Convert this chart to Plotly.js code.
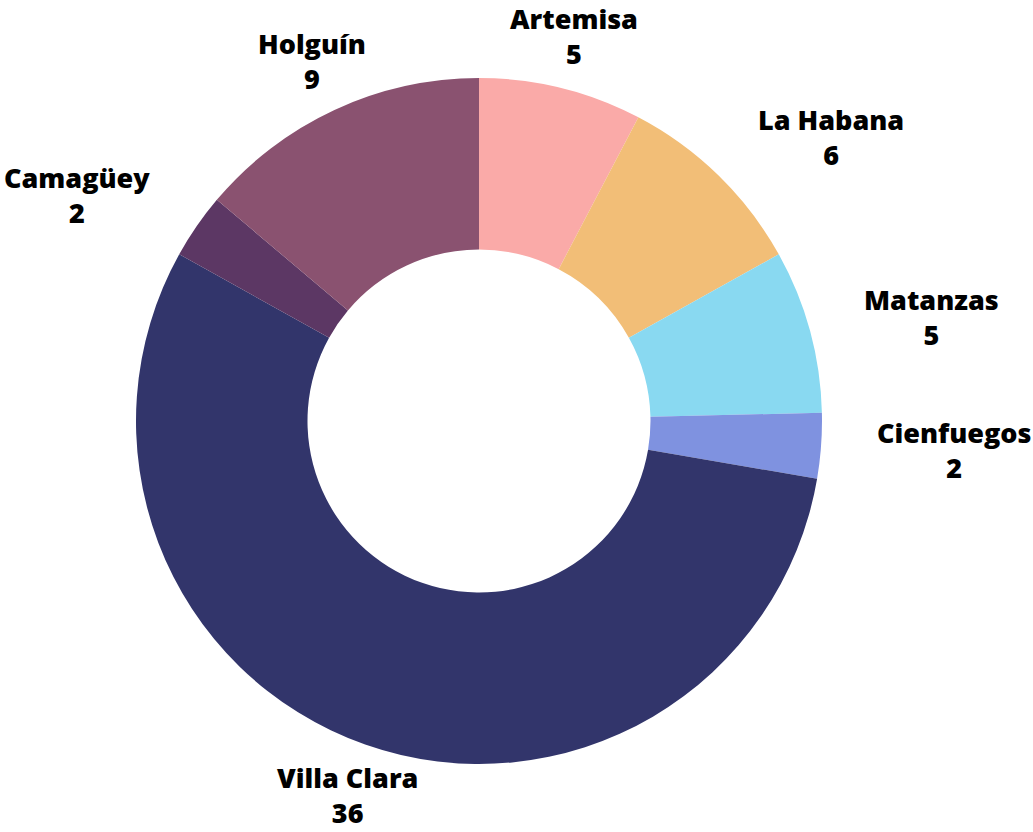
<!DOCTYPE html>
<html><head><meta charset="utf-8">
<script src="https://cdn.plot.ly/plotly-3.0.1.min.js"></script>
<style>html,body{margin:0;padding:0;background:#fff;}#chart{width:1033px;height:832px;}</style>
</head><body><div id="chart"></div>
<script>
const provinces = ["Artemisa", "La Habana", "Matanzas", "Cienfuegos", "Villa Clara", "Camagüey", "Holguín"];
const counts = [5, 6, 5, 2, 36, 2, 9];
const colors = ["#FAAAA8", "#F2BE77", "#89D9F1", "#7F92E0", "#32356B", "#5C3764", "#8A5270"];

const W = 1033, H = 832;
const cx = 479, cy = 421, R = 343, labelR = 397;
const dom = {x: [(cx - R) / W, (cx + R) / W], y: [(H - cy - R) / H, (H - cy + R) / H]};

const total = counts.reduce((a, b) => a + b, 0);
let cum = 0;
const annotations = counts.map((v, i) => {
  const mid = (cum + v / 2) / total * 2 * Math.PI;
  cum += v;
  const ux = Math.sin(mid), uy = Math.cos(mid);
  const px = cx + ux * labelR, py = cy - uy * labelR;
  let xanchor = 'center';
  if (Math.abs(ux) > 0.5) xanchor = ux > 0 ? 'left' : 'right';
  return {
    x: px / W, y: 1 - py / H, xref: 'paper', yref: 'paper',
    xanchor: xanchor, yanchor: 'middle', align: 'center', showarrow: false,
    text: provinces[i] + '<br>' + v,
    font: {family: 'Open Sans', size: 27, color: '#000', weight: 800}
  };
});

const trace = {
  type: 'pie', labels: provinces, values: counts, sort: false, direction: 'clockwise',
  rotation: 0, hole: 0.5, textinfo: 'none', hoverinfo: 'label+value',
  marker: {colors: colors, line: {width: 0}}, domain: dom, showlegend: false
};

Plotly.newPlot('chart', [trace], {
  width: W, height: H, margin: {l: 0, r: 0, t: 0, b: 0},
  paper_bgcolor: '#fff', showlegend: false, annotations: annotations
}, {displayModeBar: false, staticPlot: true});
</script></body></html>
